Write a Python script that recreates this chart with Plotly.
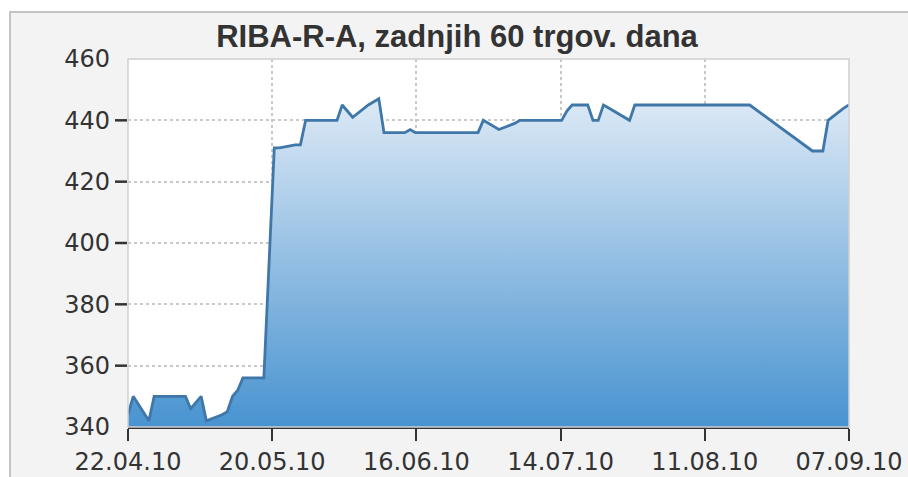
import pandas as pd
import plotly.graph_objects as go

dates = [
    "2010-04-22", "2010-04-23", "2010-04-26", "2010-04-27", "2010-04-28", "2010-04-30",
    "2010-05-03", "2010-05-04", "2010-05-06", "2010-05-07", "2010-05-10", "2010-05-11",
    "2010-05-12", "2010-05-13", "2010-05-14", "2010-05-17", "2010-05-18", "2010-05-20",
    "2010-05-21", "2010-05-24", "2010-05-25", "2010-05-26", "2010-05-28", "2010-05-31",
    "2010-06-01", "2010-06-02", "2010-06-04", "2010-06-07", "2010-06-08", "2010-06-09",
    "2010-06-10", "2010-06-14", "2010-06-15", "2010-06-16", "2010-06-18", "2010-06-21",
    "2010-06-28", "2010-06-29", "2010-07-02", "2010-07-05", "2010-07-06", "2010-07-12",
    "2010-07-14", "2010-07-15", "2010-07-16", "2010-07-19", "2010-07-20", "2010-07-21",
    "2010-07-22", "2010-07-23", "2010-07-27", "2010-07-28", "2010-08-03", "2010-08-09",
    "2010-08-19", "2010-08-31", "2010-09-02", "2010-09-03", "2010-09-06", "2010-09-07",
]
prices = [
    344, 350, 342, 350, 350, 350,
    350, 346, 350, 342, 344, 345,
    350, 352, 356, 356, 356, 431,
    431, 432, 432, 440, 440, 440,
    440, 445, 441, 445, 446, 447,
    436, 436, 437, 436, 436, 436,
    436, 440, 437, 439, 440, 440,
    440, 443, 445, 445, 440, 440,
    445, 444, 440, 445, 445, 445,
    445, 430, 430, 440, 444, 445,
]
tick_labels = ["22.04.10", "20.05.10", "16.06.10", "14.07.10", "11.08.10", "07.09.10"]
y_ticks = [340, 360, 380, 400, 420, 440, 460]
title_text = "RIBA-R-A, zadnjih 60 trgov. dana"

start = pd.Timestamp("2010-04-22")
end = pd.Timestamp("2010-09-07")
tick_positions = [start + (end - start) * k / 5 for k in range(6)]

fig = go.Figure()
fig.add_trace(go.Scatter(
    x=pd.to_datetime(dates), y=prices, mode="lines",
    line=dict(color="#3f77a9", width=2.8),
    fill="tozeroy",
    fillgradient=dict(type="vertical", start=340, stop=448,
                      colorscale=[[0, "#4893d0"], [1, "#deeaf6"]]),
    hoverinfo="skip",
))

W, H = 908, 477
L, R, T, B = 128, 59, 59, 50
pw, ph = W - L - R, H - T - B

shapes = [
    dict(type="rect", xref="paper", yref="paper", layer="below",
         x0=(10 - L) / pw, x1=(W + 20 - L) / pw,
         y0=-(H + 20 - T - ph) / ph, y1=(H - 12 - B) / ph,
         fillcolor="#f3f3f3", line=dict(color="#c4c4c4", width=2)),
    dict(type="rect", xref="x domain", yref="y domain", layer="below",
         x0=0, x1=1, y0=0, y1=1, fillcolor="white", line=dict(width=0)),
    dict(type="rect", xref="x domain", yref="y domain", layer="above",
         x0=0, x1=1, y0=0, y1=1, line=dict(color="#d0d0d0", width=1.5)),
]
# y-axis tick dashes (only inner ticks, as in the original)
for v in y_ticks[1:-1]:
    shapes.append(dict(type="line", xref="x domain", yref="y", layer="above",
                       x0=-13 / pw, x1=-1 / pw, y0=v, y1=v,
                       line=dict(color="#333333", width=2.5)))

fig.update_layout(
    width=W, height=H,
    margin=dict(l=L, r=R, t=T, b=B, autoexpand=False),
    paper_bgcolor="white",
    plot_bgcolor="white",
    showlegend=False,
    title=dict(text=title_text, xref="container", yref="container",
               x=457 / W, y=1 - 36 / H, xanchor="center", yanchor="middle",
               font=dict(family="Liberation Sans", size=31, color="#333333", weight="bold")),
    font=dict(family="DejaVu Sans", size=24, color="#333333"),
    shapes=shapes,
)
fig.update_xaxes(
    type="date", range=[start, end], automargin=False,
    tickvals=tick_positions, ticktext=tick_labels,
    showline=True, linecolor="#333333", linewidth=2,
    ticks="outside", ticklen=12, tickwidth=2, tickcolor="#333333",
    showgrid=True, gridcolor="#c8c8c8", griddash="dot", gridwidth=1.5,
    zeroline=False, fixedrange=True,
)
fig.update_yaxes(
    range=[340, 460], tickvals=y_ticks, automargin=False,
    ticks="", ticklabelstandoff=17,
    showgrid=True, gridcolor="#c8c8c8", griddash="dot", gridwidth=1.5,
    zeroline=False, showline=False, fixedrange=True,
)

fig.write_html("out.html", config={"displayModeBar": False},
               post_script="document.body.style.margin='0';document.body.style.overflow='hidden';")
